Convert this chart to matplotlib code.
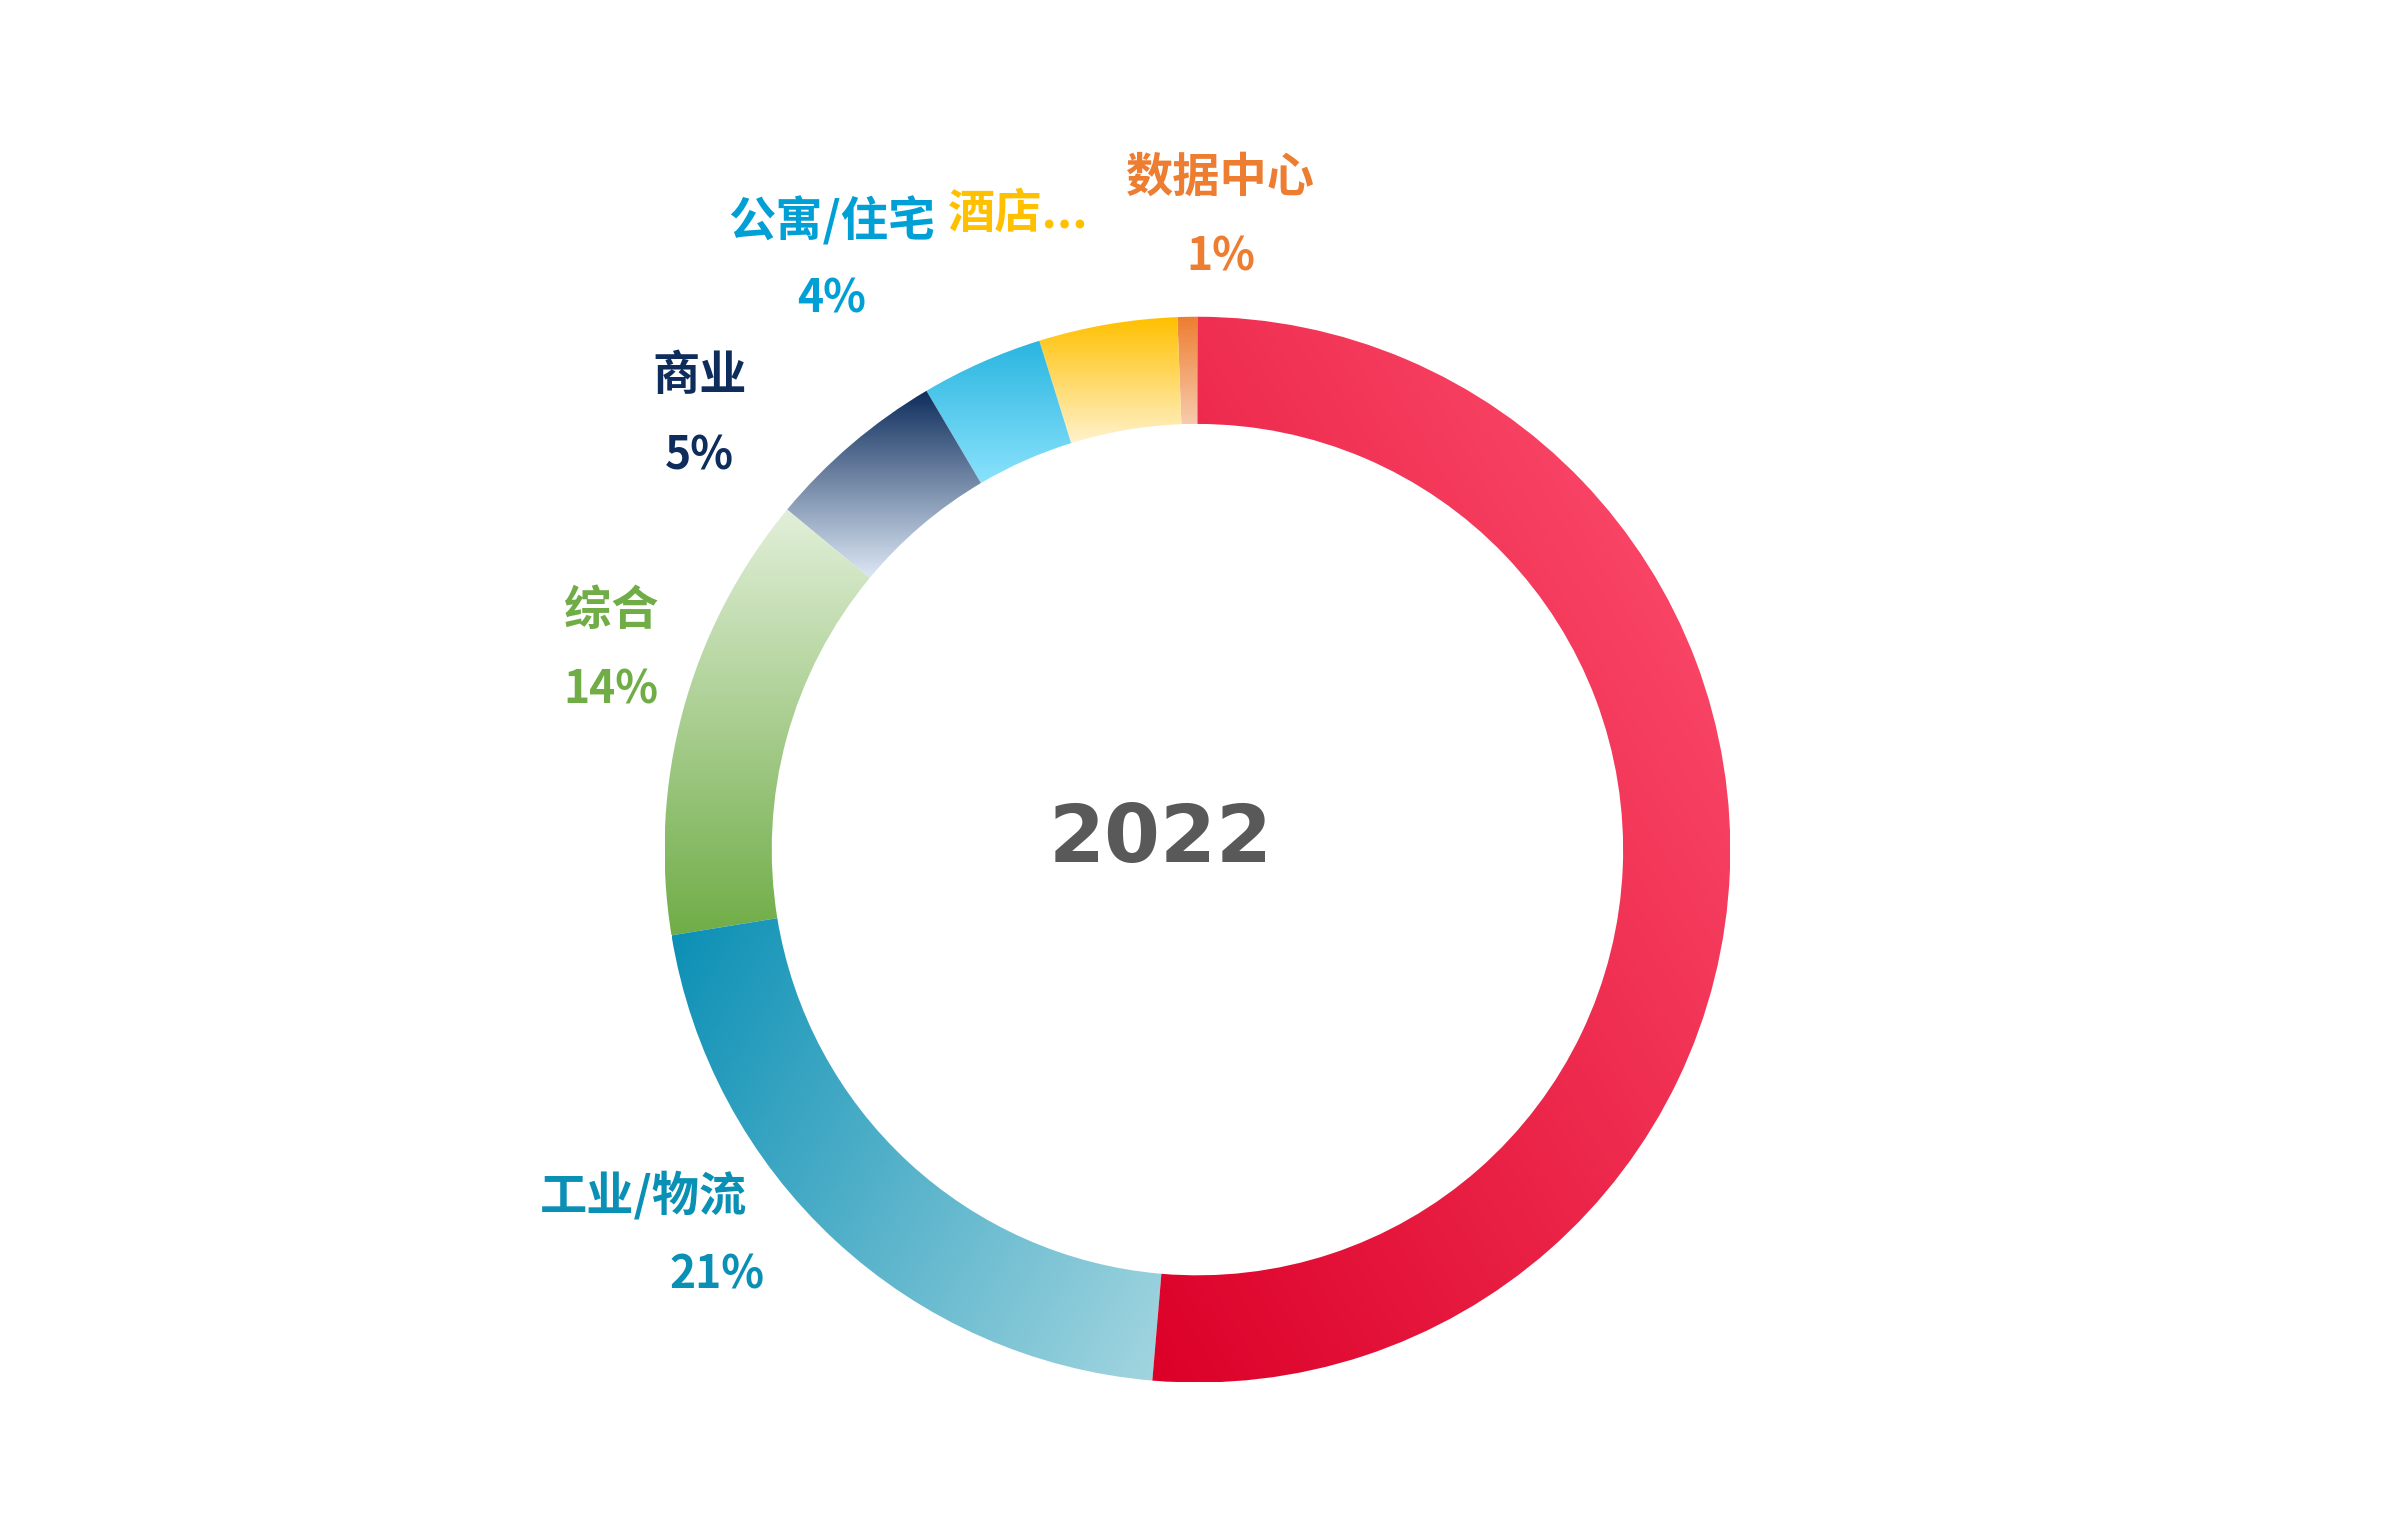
import matplotlib
matplotlib.use("Agg")
import matplotlib.pyplot as plt
import numpy as np
from matplotlib.patches import Wedge
from matplotlib.colors import to_rgb

plt.rcParams['font.family'] = ['Noto Sans CJK SC', 'DejaVu Sans']

# segments counter-clockwise from the top
names = ['数据中心', '酒店...', '公寓/住宅', '商业', '综合', '工业/物流', '其他']
values = [0.6, 4.2, 3.7, 5.5, 13.6, 21.1, 51.4]
pct_labels = ['1%', '', '4%', '5%', '14%', '21%', '']
# gradient start / end colours and direction (degrees, from start to end)
grad_a = ['#ED7D31', '#FFC000', '#29B5E0', '#0E2D5C', '#E2EFD9', '#0A8FB5', '#DC0028']
grad_b = ['#F8CBAD', '#FFF2CC', '#8AE2FC', '#DDE8F5', '#70AD47', '#A3D6E0', '#FF5473']
grad_dir = [-90, -90, -90, -90, -90, -30, 30]
label_colors = ['#ED7D31', '#FFC000', '#00A0D6', '#0E2D5C', '#70AD47', '#0A8FB5', '#E4002B']

fig = plt.figure(figsize=(24.01, 15.4), dpi=100)
ax = fig.add_axes([0, 0, 1, 1])
ax.set_xlim(0, 1568)
ax.set_ylim(0, 1000)
ax.axis('off')

cx, cy = 782, 1000 - 552
R, w = 348, 70

total = sum(values)
start = 90.0
for i, v in enumerate(values):
    span = v / total * 360
    wedge = Wedge((cx, cy), R, start, start + span, width=w,
                  facecolor='none', edgecolor='none')
    ax.add_patch(wedge)
    # gradient image clipped to the wedge
    ang = np.linspace(np.radians(start), np.radians(start + span), 50)
    xs = np.concatenate([cx + R * np.cos(ang), cx + (R - w) * np.cos(ang)])
    ys = np.concatenate([cy + R * np.sin(ang), cy + (R - w) * np.sin(ang)])
    x0, x1, y0, y1 = xs.min(), xs.max(), ys.min(), ys.max()
    gx, gy = np.meshgrid(np.linspace(x0, x1, 200), np.linspace(y0, y1, 200))
    d = np.radians(grad_dir[i])
    p = gx * np.cos(d) + gy * np.sin(d)
    t = (p - p.min()) / (p.max() - p.min() + 1e-9)
    ca, cb = np.array(to_rgb(grad_a[i])), np.array(to_rgb(grad_b[i]))
    img = ca[None, None, :] * (1 - t[..., None]) + cb[None, None, :] * t[..., None]
    im = ax.imshow(img, extent=(x0, x1, y0, y1), origin='lower',
                   interpolation='bilinear', zorder=2)
    im.set_clip_path(wedge)
    start += span

# labels (positions in reference pixel space)
label_pos = [(797, 113), (665, 137), (543, 142), (457, 243), (399, 396), (420, 778), None]
pct_pos = [(797, 165), None, (543, 193), (457, 295), (399, 448), (468, 830), None]
for i in range(len(names)):
    if label_pos[i] is not None:
        ax.text(label_pos[i][0], 1000 - label_pos[i][1], names[i], fontsize=34,
                fontweight='bold', color=label_colors[i], ha='center', va='center', zorder=3)
    if pct_pos[i] is not None:
        ax.text(pct_pos[i][0], 1000 - pct_pos[i][1], pct_labels[i], fontsize=32,
                fontweight='bold', color=label_colors[i], ha='center', va='center', zorder=3)

ax.text(758, 1000 - 546, '2022', fontsize=58, fontweight='bold', color='#595959',
        ha='center', va='center', family=['DejaVu Sans'])

fig.savefig('out.png', dpi=100)
